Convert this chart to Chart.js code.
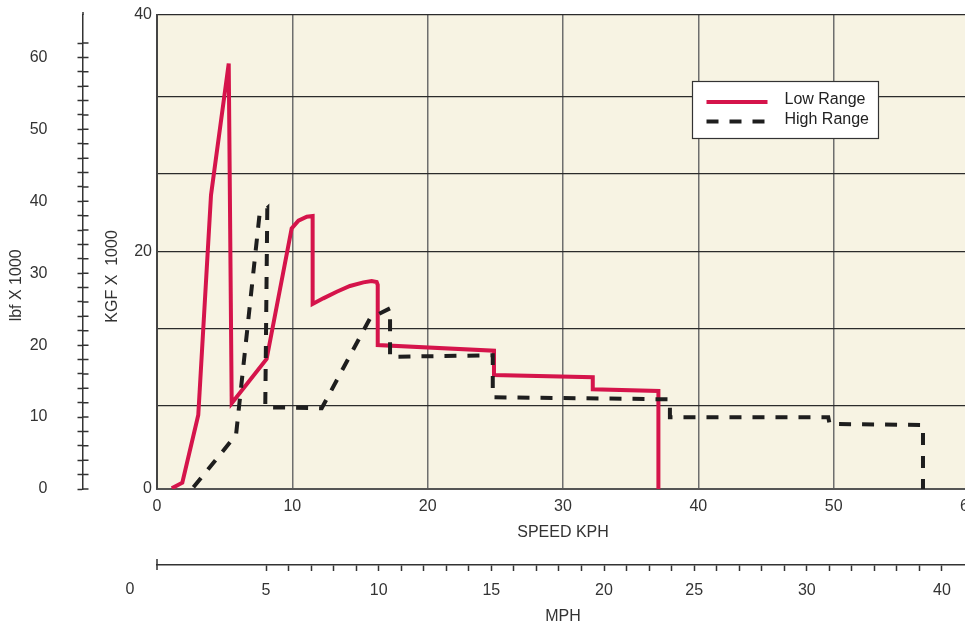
<!DOCTYPE html>
<html>
<head>
<meta charset="utf-8">
<style>
  html, body { margin: 0; padding: 0; background: #fff; overflow: hidden; }
  canvas { display: block; }
</style>
</head>
<body>
<canvas id="grafico" width="980" height="626"></canvas>
<script src="https://cdn.jsdelivr.net/npm/chart.js"></script>
<script>
// Low range curve (speed kph / force kgf x 1000)
const lowKph = [1.09, 1.87, 3.05, 3.99, 5.3, 5.52, 8.1, 9.95, 10.45, 11.07, 11.5, 11.5, 12.29, 13.28, 14.26, 15.25, 15.86, 16.23, 16.31, 16.31, 24.9, 24.9, 32.2, 32.2, 37.05, 37.05];
const lowKgf = [0.06, 0.53, 6.24, 24.8, 35.9, 7.23, 10.97, 22.0, 22.64, 22.98, 23.04, 15.61, 16.09, 16.65, 17.13, 17.44, 17.55, 17.47, 17.22, 12.15, 11.67, 9.62, 9.43, 8.41, 8.27, 0];

// High range curve
const highKph = [2.69, 5.84, 7.57, 8.15, 8.0, 12.17, 15.74, 17.22, 17.22, 24.81, 24.81, 37.9, 37.9, 49.6, 49.7, 56.6, 56.6];
const highKgf = [0.14, 4.56, 23.1, 23.7, 6.9, 6.81, 14.4, 15.25, 11.16, 11.28, 7.74, 7.57, 6.05, 6.05, 5.49, 5.4, 0];

// axes
const kgfGrid = [0, 7, 13.5, 20, 26.6, 33.1, 40];
const kgfLabels = [0, 20, 40];
const lbfLabels = [0, 10, 20, 30, 40, 50, 60];
const mphLabelAt = [5, 10, 15, 20, 24, 29, 35];
const mphLabelText = ['5', '10', '15', '20', '25', '30', '40'];

const fonte = { family: "'Liberation Sans', Arial, Helvetica, sans-serif", size: 16 };
const corTexto = '#333';
const nb = '\u00a0';

Chart.defaults.font = fonte;
Chart.defaults.color = corTexto;

// fixed box sizes, no extra label padding around the plot
function fixa(tam) {
  return s => {
    if (s.isHorizontal()) s.height = tam; else s.width = tam;
    s.paddingTop = 0; s.paddingBottom = 0;
    s.paddingLeft = 0; s.paddingRight = 0;
  };
}

const fundo = {
  id: 'fundo',
  beforeDraw(chart) {
    const { ctx, chartArea: a } = chart;
    ctx.save();
    ctx.fillStyle = '#f7f3e3';
    ctx.fillRect(a.left, a.top, a.right - a.left, a.bottom - a.top);
    ctx.restore();
  }
};

const extras = {
  id: 'extras',
  afterDraw(chart) {
    const ctx = chart.ctx;
    const y2 = chart.scales.y2;
    const x2 = chart.scales.x2;
    ctx.save();
    ctx.strokeStyle = '#333';
    ctx.lineWidth = 1.5;
    // lbf ticks cross the axis line
    ctx.beginPath();
    y2.ticks.forEach(t => {
      const py = y2.getPixelForValue(t.value);
      ctx.moveTo(y2.right, py);
      ctx.lineTo(y2.right + 5.5, py);
    });
    ctx.moveTo(y2.right, y2.top);
    ctx.lineTo(y2.right, y2.top - 3);
    // start bar of mph axis
    ctx.moveTo(x2.left, x2.top - 6);
    ctx.lineTo(x2.left, x2.top + 5);
    ctx.stroke();
    ctx.fillStyle = corTexto;
    ctx.font = "16px 'Liberation Sans', Arial, sans-serif";
    ctx.textAlign = 'center';
    ctx.textBaseline = 'middle';
    ctx.fillText('0', x2.left - 27, x2.top + 25);

    // legenda
    const a = chart.chartArea;
    const lx = a.left + 535.5, ly = a.top + 66.5;
    ctx.fillStyle = '#fff';
    ctx.fillRect(lx, ly, 186, 57);
    ctx.lineWidth = 1.2;
    ctx.strokeStyle = '#333';
    ctx.strokeRect(lx, ly, 186, 57);
    chart.data.datasets.forEach((ds, i) => {
      const yy = ly + 20.5 + i * 19.5;
      ctx.beginPath();
      ctx.strokeStyle = ds.borderColor;
      ctx.lineWidth = 4;
      ctx.setLineDash(ds.borderDash || []);
      ctx.moveTo(lx + 14, yy);
      ctx.lineTo(lx + 75, yy);
      ctx.stroke();
      ctx.setLineDash([]);
      ctx.fillStyle = '#222';
      ctx.textAlign = 'left';
      ctx.fillText(ds.label, lx + 92, yy - 2);
    });
    ctx.restore();
  }
};

const ctx1 = document.getElementById('grafico').getContext('2d');

const grafico = new Chart(ctx1, {
  type: 'line',
  data: {
    datasets: [
      {
        label: 'Low Range',
        data: lowKph.map((x, i) => ({ x: x, y: lowKgf[i] })),
        borderColor: '#d5144b',
        borderWidth: 4,
        pointRadius: 0,
        tension: 0,
        fill: false,
        order: 1,
        xAxisID: 'x',
        yAxisID: 'y'
      },
      {
        label: 'High Range',
        data: highKph.map((x, i) => ({ x: x, y: highKgf[i] })),
        borderColor: '#1e1e1e',
        borderWidth: 4,
        borderDash: [12, 11],
        pointRadius: 0,
        tension: 0,
        fill: false,
        order: 0,
        xAxisID: 'x',
        yAxisID: 'y'
      }
    ]
  },
  options: {
    responsive: false,
    animation: false,
    layout: { padding: { top: 15, right: 11, left: 0, bottom: 0 } },
    plugins: {
      legend: { display: false },
      tooltip: { enabled: false }
    },
    scales: {
      x: {
        type: 'linear',
        position: 'bottom',
        weight: 0,
        min: 0,
        max: 60,
        ticks: { stepSize: 10, padding: 8, maxRotation: 0, color: corTexto },
        grid: { color: '#6e6e6e', lineWidth: 1.5, drawTicks: false },
        border: { color: '#555', width: 2 },
        title: { display: true, text: 'SPEED KPH', color: corTexto, padding: { top: 0, bottom: 23 } },
        afterFit: fixa(76)
      },
      x2: {
        type: 'linear',
        position: 'bottom',
        weight: 1,
        min: 0.16,
        max: 36.2,
        afterBuildTicks: s => {
          const t = [];
          for (let v = 5; v <= 35; v++) t.push({ value: v });
          s.ticks = t;
        },
        ticks: {
          autoSkip: false,
          maxRotation: 0,
          padding: 10,
          color: corTexto,
          callback: v => {
            const i = mphLabelAt.indexOf(v);
            return i >= 0 ? mphLabelText[i] : '';
          }
        },
        grid: { drawOnChartArea: false, tickLength: 6, tickColor: '#333', tickWidth: 1.5 },
        border: { color: '#333', width: 1.5 },
        title: { display: true, text: 'MPH', color: corTexto, padding: { top: 0, bottom: 0 } },
        afterFit: fixa(61)
      },
      y: {
        type: 'linear',
        position: 'left',
        weight: 0,
        min: 0,
        max: 40,
        afterBuildTicks: s => { s.ticks = kgfGrid.map(v => ({ value: v })); },
        ticks: {
          autoSkip: false,
          padding: 5,
          color: corTexto,
          callback: v => kgfLabels.includes(v) ? String(v) : ''
        },
        grid: { color: '#2b2b2b', lineWidth: 1.3, drawTicks: false },
        border: { color: '#444', width: 2 },
        title: {
          display: true,
          text: 'KGF' + nb + 'X' + nb + nb + '1000' + nb.repeat(11),
          color: corTexto,
          padding: { top: 20, bottom: 0 }
        },
        afterFit: fixa(74)
      },
      y2: {
        type: 'linear',
        position: 'left',
        weight: 1,
        min: 0,
        max: 65.9,
        afterBuildTicks: s => { s.ticks = s.ticks.filter(t => t.value <= 64 && t.value % 2 === 0); },
        ticks: {
          stepSize: 2,
          autoSkip: false,
          padding: 30,
          color: corTexto,
          callback: v => lbfLabels.includes(v) ? String(v) : ''
        },
        grid: { drawOnChartArea: false, tickLength: 5.5, tickColor: '#333', tickWidth: 1.5 },
        border: { color: '#333', width: 1.5 },
        title: {
          display: true,
          text: 'lbf' + nb + 'X' + nb + '1000' + nb.repeat(15),
          color: corTexto,
          padding: { top: 7, bottom: 0 }
        },
        afterFit: fixa(83)
      }
    }
  },
  plugins: [fundo, extras]
});
</script>
</body>
</html>
